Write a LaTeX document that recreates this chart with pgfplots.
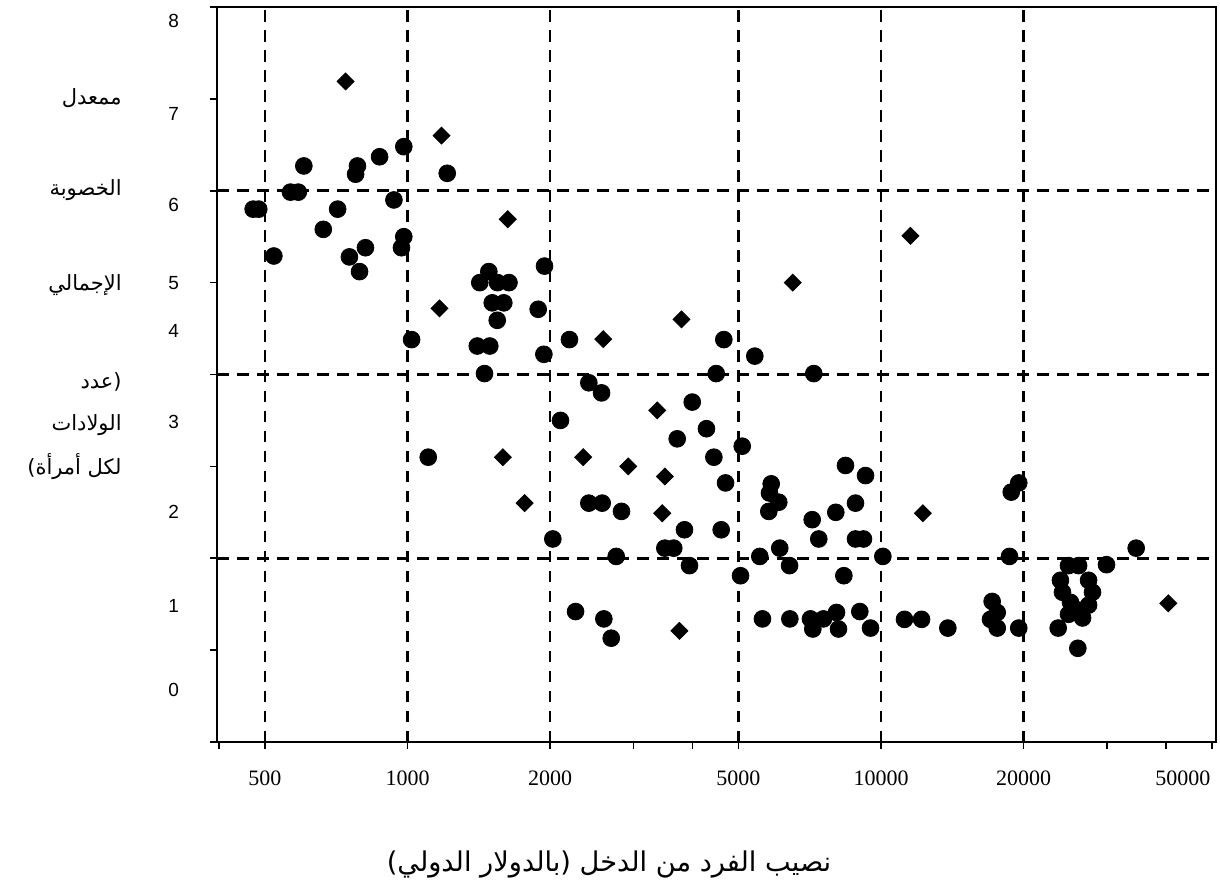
\documentclass[border=0pt]{standalone}
\usepackage{pgfplots}
\pgfplotsset{compat=1.18}
\usepackage{pgfplotstable}
\usepackage{fontspec}
\setmainfont{Liberation Serif}
\newfontfamily\sansf{Liberation Sans}
\newfontfamily\arabicfont[Script=Arabic]{DejaVu Sans}
\TeXXeTstate=1

\pgfplotstableread{
x y
472 5.80
485 5.80
566 5.985
588 5.985
604 6.27
522 5.29
784 6.27
777 6.18
873 6.37
982 6.48
936 5.90
712 5.80
664 5.58
815 5.38
754 5.28
792 5.12
982 5.50
971 5.38
1213 6.19
1947 5.18
1485 5.12
1421 5.00
1549 5.00
1638 5.00
1510 4.78
1597 4.78
1547 4.59
1888 4.71
1020 4.38
1404 4.31
1492 4.31
1941 4.22
2198 4.38
1454 4.01
2104 3.50
1106 3.10
2027 2.21
2264 1.42
4656 4.38
5413 4.20
4487 4.01
7212 4.01
2415 3.91
2569 3.80
3994 3.70
4279 3.41
3712 3.30
5092 3.22
4436 3.10
8414 3.01
9275 2.90
4695 2.82
5863 2.81
5814 2.71
6083 2.61
5795 2.51
8834 2.60
8026 2.50
7156 2.42
2415 2.60
2577 2.60
2831 2.51
3846 2.31
4597 2.31
7389 2.21
8834 2.21
9183 2.21
2759 2.02
3495 2.11
3650 2.11
3941 1.92
5050 1.81
5546 2.02
6112 2.11
6410 1.92
8347 1.81
10090 2.02
2598 1.34
2693 1.13
5619 1.34
6419 1.34
7097 1.34
7178 1.23
7559 1.34
8054 1.41
8133 1.23
9020 1.42
9502 1.24
11210 1.335
12180 1.335
13840 1.24
19540 2.82
18840 2.72
18680 2.02
34590 2.11
29940 1.93
24890 1.92
26140 1.92
23930 1.76
24170 1.63
25130 1.52
24890 1.39
27440 1.76
27970 1.63
27440 1.49
26650 1.35
25880 1.44
23670 1.24
26040 1.02
19540 1.24
17600 1.24
17170 1.53
17600 1.41
17030 1.335
}\circles

\pgfplotstableread{
x y
740 7.19
1180 6.60
1628 5.69
1168 4.72
1590 3.10
1767 2.60
6512 5.00
3790 4.60
2590 4.385
3368 3.61
2350 3.10
2925 3.00
3495 2.89
3451 2.49
3753 1.21
11540 5.51
12260 2.49
40430 1.51
}\diamonds

\begin{document}
\begin{tikzpicture}
\path[use as bounding box] (-108.5pt,-76.5pt) rectangle (501.5pt,371pt);
\begin{axis}[
  at={(0pt,0pt)}, anchor=south west,
  scale only axis, width=499.5pt, height=367.5pt,
  xmode=log, xmin=396, xmax=51000, ymin=0, ymax=8,
  axis line style={line width=1.4pt},
  tick pos=left, tick align=outside,
  major tick length=3.5pt,
  tick style={line width=0.8pt, black},
  xminorticks=false, yminorticks=false,
  xtick={400,500,1000,2000,3000,4000,5000,10000,20000,30000,40000},
  xticklabels={,500,1000,2000,,,5000,10000,20000,,},
  extra x ticks={50000}, extra x tick labels={50000},
  extra x tick style={xticklabel style={xshift=-14.5pt}},
  xticklabel style={font=\fontsize{11}{13}\selectfont, yshift=-7.5pt},
  ytick={0,1,2,3,4,5,6,7,8},
  yticklabels={},
  extra y ticks={0.57,1.48,2.50,3.48,4.47,5.00,5.85,6.84,7.85},
  extra y tick labels={0,1,2,3,4,5,6,7,8},
  extra y tick style={major tick length=0pt, yticklabel style={xshift=-15.5pt}},
  yticklabel style={font=\sansf\fontsize{9.5}{11}\selectfont, anchor=east},
  /pgf/number format/assume math mode=true,
  clip=false,
]
\foreach \gx in {500,1000,2000,5000,10000,20000}{
  \edef\tmp{\noexpand\draw[line width=1.35pt, dash pattern=on 5.75pt off 4.25pt] (axis cs:\gx,0) -- (axis cs:\gx,8);}
  \tmp
}
\foreach \gy in {2,4,6}{
  \edef\tmp{\noexpand\draw[line width=1.35pt, dash pattern=on 5.75pt off 4.25pt] (axis cs:396,\gy) -- (axis cs:51000,\gy);}
  \tmp
}
\addplot[only marks, mark=*, mark size=4.2pt, mark options={fill=black, draw=black}] table[x=x,y=y] {\circles};
\addplot[only marks, mark=square*, mark size=3pt, mark options={fill=black, draw=black, rotate=45}] table[x=x,y=y] {\diamonds};
\end{axis}
\begin{scope}[every node/.style={anchor=east, inner sep=0pt, font=\arabicfont\fontsize{10.5}{12}\selectfont}]
\node at (-47.5pt,322pt) {\beginR ممعدل\endR};
\node at (-47.5pt,276pt) {\beginR الخصوبة\endR};
\node at (-47.5pt,228.5pt) {\beginR الإجمالي\endR};
\node at (-47.5pt,180pt) {\beginR (عدد\endR};
\node at (-47.5pt,158.5pt) {\beginR الولادات\endR};
\node at (-47.5pt,137.5pt) {\beginR لكل أمرأة)\endR};
\end{scope}
\node[font=\arabicfont\fontsize{13.6}{15}\selectfont, inner sep=0pt] at (196pt,-61pt) {\beginR نصيب الفرد من الدخل (بالدولار الدولي)\endR};
\end{tikzpicture}
\end{document}
